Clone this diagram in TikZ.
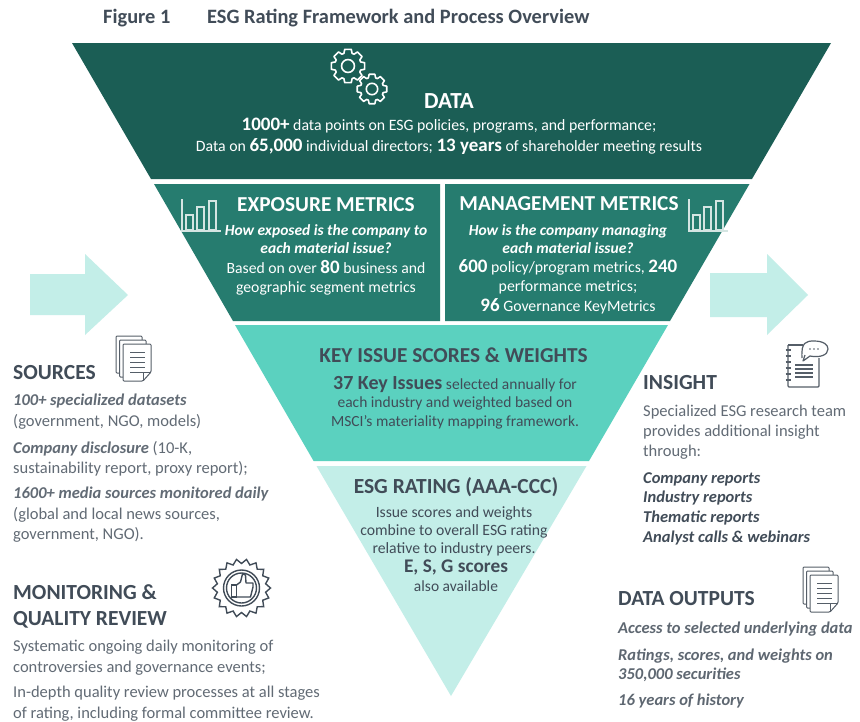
\documentclass[tikz,border=0pt]{standalone}
\usepackage{fontspec}
\setmainfont{Carlito}
\definecolor{cdark}{HTML}{1B5E55}
\definecolor{cmid}{HTML}{267C6F}
\definecolor{cteal}{HTML}{5BD1BF}
\definecolor{cpale}{HTML}{C3EEE8}
\definecolor{chead}{HTML}{414C58}
\definecolor{cbody}{HTML}{626B75}
\definecolor{cicon}{HTML}{555E68}
\newcommand{\fs}[2]{\fontsize{#1}{#2}\selectfont}
\newcommand{\bigb}[1]{{\fs{19}{18}\bfseries #1}}
\newcommand{\bi}[1]{{\bfseries\itshape #1}}
\newcommand{\gearpath}[4]{% x y R teeth
  \draw[white,line width=1.6pt,line join=round]
    ({#1+#3*cos(-11)},{#2+#3*sin(-11)})
    \foreach \k in {0,...,#4}{
      -- ({#1+#3*cos(360*\k/#4-11)},{#2+#3*sin(360*\k/#4-11)})
      -- ({#1+#3*cos(360*\k/#4+11)},{#2+#3*sin(360*\k/#4+11)})
      -- ({#1+.78*#3*cos(360*\k/#4+18)},{#2+.78*#3*sin(360*\k/#4+18)})
      -- ({#1+.78*#3*cos(360*(\k+1)/#4-18)},{#2+.78*#3*sin(360*(\k+1)/#4-18)})
    };
  \draw[white,line width=1.6pt] (#1,#2) circle[radius={.38*#3}];
}
\newcommand{\barchart}[1]{% x shift
  \begin{scope}[shift={(#1,0)},white!80!cmid,line width=1.2pt]
    \draw (182,199) -- (182,231) -- (221,231);
    \draw (186,230) rectangle (193,215);
    \draw (197,230) rectangle (204,207);
    \draw (209,230) rectangle (216,201);
  \end{scope}
}
\newcommand{\docstack}[2]{%
  \begin{scope}[shift={(#1,#2)},cicon,line width=1pt,line join=round]
    \draw[fill=white,rounded corners=1pt] (116,336) -- (142,336) -- (142,373) -- (116,373) -- cycle;
    \draw[fill=white,rounded corners=1pt] (119.5,340) -- (146,340) -- (146,377) -- (119.5,377) -- cycle;
    \draw[fill=white,rounded corners=1pt] (123,344) -- (151,344) -- (151,372) -- (143,381) -- (123,381) -- cycle;
    \draw (151,372) -- (143,372) -- (143,381);
    \foreach \yy in {352,357,362,367,372}{\draw (130,\yy) -- (145,\yy);}
  \end{scope}
}
\tikzset{
  tw/.style={text=white,align=center,inner sep=0pt,anchor=center},
  tdark/.style={text=chead,align=center,inner sep=0pt,anchor=center},
  headl/.style={text=chead,align=left,inner sep=0pt,anchor=west,font=\fs{21.5}{26}\bfseries},
  bodyl/.style={text=cbody,align=left,inner sep=0pt,anchor=north west,font=\fs{16.5}{20.4}},
  boldl/.style={text=chead,align=left,inner sep=0pt,anchor=north west,font=\fs{16.5}{20}\bfseries\itshape},
  arrowshape/.style={fill=cpale,draw=none},
}
\begin{document}
\begin{tikzpicture}[x=1pt,y=-1pt]
\useasboundingbox (0,0) rectangle (860,721);
\fill[white] (0,0) rectangle (860,721);
% arrows
\fill[arrowshape] (30,274) -- (85,274) -- (85,254) -- (128,295) -- (85,335) -- (85,315) -- (30,315) -- cycle;
\fill[arrowshape] (710,273) -- (767,273) -- (767,254) -- (808,295) -- (767,335) -- (767,317) -- (710,317) -- cycle;
% funnel
\fill[cdark] (72,43) -- (831,43) -- (752,179) -- (151,179) -- cycle;
\fill[cmid] (154,184) -- (440,184) -- (440,321) -- (233,321) -- cycle;
\fill[cmid] (445,184) -- (749.5,184) -- (670,321) -- (445,321) -- cycle;
\fill[cteal] (235,325) -- (668,325) -- (589,461) -- (313.6,461) -- cycle;
\fill[cpale] (316.5,466) -- (586.5,466) -- (451,696) -- cycle;
% title
\node[tdark,anchor=west,font=\fs{20.4}{22}\bfseries] (fig) at (103,18.5) {Figure 1};
\node[tdark,anchor=west,font=\fs{20.4}{22}\bfseries] (figt) at (207,18.5) {ESG Rating Framework and Process Overview};
% gears
\gearpath{348}{66}{17}{8}
\gearpath{372}{89}{15}{8}
% data
\node[tw,font=\fs{23}{24}\bfseries] (data) at (449,101.5) {DATA};
\node[tw,font=\fs{15.8}{21}] (datat) at (449,136) {\bigb{1000+} data points on ESG policies, programs, and performance;\\Data on \bigb{65,000} individual directors; \bigb{13 years} of shareholder meeting results};
% exposure
\barchart{0}
\node[tw,font=\fs{21.3}{22}\bfseries] (exp) at (326,204.5) {EXPOSURE METRICS};
\node[tw,font=\fs{15.5}{18}\bfseries\itshape] (expq) at (326,239) {How exposed is the company to\\each material issue?};
\node[tw,font=\fs{15.7}{19}] (expt) at (326,277.5) {Based on over \bigb{80} business and\\geographic segment metrics};
% management
\barchart{507}
\node[tw,font=\fs{21.3}{22}\bfseries] (man) at (569,203.5) {MANAGEMENT METRICS};
\node[tw,font=\fs{15.5}{18}\bfseries\itshape] (manq) at (568,239) {How is the company managing\\each material issue?};
\node[tw,font=\fs{15.8}{19}] (mant) at (568,287) {\bigb{600} policy/program metrics, \bigb{240}\\performance metrics;\\[1pt]\bigb{96} Governance KeyMetrics};
% key issue
\node[tdark,font=\fs{21.3}{22}\bfseries] (key) at (453.5,355.5) {KEY ISSUE SCORES \& WEIGHTS};
\node[tdark,font=\fs{15.5}{18.5}] (keyt) at (455,402.5) {{\fs{20}{18}\bfseries 37 Key Issues} selected annually for\\each industry and weighted based on\\MSCI’s materiality mapping framework.};
% rating
\node[tdark,font=\fs{21.5}{22}\bfseries] (rat) at (456,487.5) {ESG RATING (AAA-CCC)};
\node[tdark,font=\fs{15.7}{18}] (ratt) at (454,531) {Issue scores and weights\\combine to overall ESG rating\\relative to industry peers.};
\node[tdark,font=\fs{19.3}{20}\bfseries] (rate) at (456,567) {E, S, G scores};
\node[tdark,font=\fs{15.5}{16}] (rata) at (456,586) {also available};
% sources
\docstack{0}{0}
\node[headl] (src) at (13,372.5) {SOURCES};
\node[bodyl] (s1) at (13,394) {\bi{100+ specialized datasets}\\(government, NGO, models)};
\node[bodyl] (s2) at (13,441) {\bi{Company disclosure} (10-K,\\sustainability report, proxy report);};
\node[bodyl] (s3) at (13,487) {\bi{1600+ media sources monitored daily}\\(global and local news sources,\\government, NGO).};
% monitoring
\node[headl] (mon) at (13,606) {MONITORING \&\\QUALITY REVIEW};
\node[bodyl] (m1) at (13,640) {Systematic ongoing daily monitoring of\\controversies and governance events;};
\node[bodyl] (m2) at (13,686) {In-depth quality review processes at all stages\\of rating, including formal committee review.};
% badge
\begin{scope}[shift={(241.5,588)},chead,line width=1.4pt,line join=miter]
  \draw (29,0) \foreach \k in {0,...,17}{
      -- ({29*cos(20*\k)},{29*sin(20*\k)})
      -- ({24.5*cos(20*\k+10)},{24.5*sin(20*\k+10)})
    } -- cycle;
  \draw circle[radius=18];
  \draw circle[radius=15];
  \draw (-10,-3) rectangle (-5,9);
  \draw[line join=round] (-5,-3) -- (-1,-6) -- (1,-14) -- (4,-13) -- (4.5,-5) -- (11.5,-5) -- (11.5,-1) -- (9,9) -- (-5,9);
\end{scope}
% insight
\node[headl] (ins) at (643,382.5) {INSIGHT};
\begin{scope}[cicon,line width=1.2pt,line join=round]
  \draw[rounded corners=1pt] (788,345) -- (803,345);
  \draw[rounded corners=1pt] (788,345) -- (788,387) -- (819,387) -- (819,358);
  \foreach \yy in {350,356,362,368,374,380}{\draw (785.5,\yy) -- (790.5,\yy);}
  \foreach \yy in {365,369,373,377}{\draw (795,\yy) -- (813,\yy);}
  \draw[fill=white] (802,358) .. controls (801,342) and (806,341) .. (814,341) .. controls (824,341) and (828,345) .. (828,349) .. controls (828,355) and (820,358) .. (810,356) -- (803,361) -- (805,355);
  \foreach \xx in {810,814,818}{\fill (\xx,349) circle[radius=.8];}
\end{scope}
\node[bodyl,font=\fs{16.5}{20}] (i1) at (643,404.5) {Specialized ESG research team\\provides additional insight\\through:};
\node[boldl,font=\fs{16.5}{19.7}\bfseries\itshape] (i2) at (643,472) {Company reports\\Industry reports\\Thematic reports\\Analyst calls \& webinars};
% outputs
\docstack{687}{231}
\node[headl] (out) at (618,598.5) {DATA OUTPUTS};
\node[boldl,text=chead!85!white] (o1) at (618,622) {Access to selected underlying data};
\node[boldl,text=chead!85!white,font=\fs{16.5}{18.5}\bfseries\itshape] (o2) at (618,649) {Ratings, scores, and weights on\\350,000 securities};
\node[boldl,text=chead!85!white] (o3) at (618,694) {16 years of history};
\end{tikzpicture}
\end{document}
